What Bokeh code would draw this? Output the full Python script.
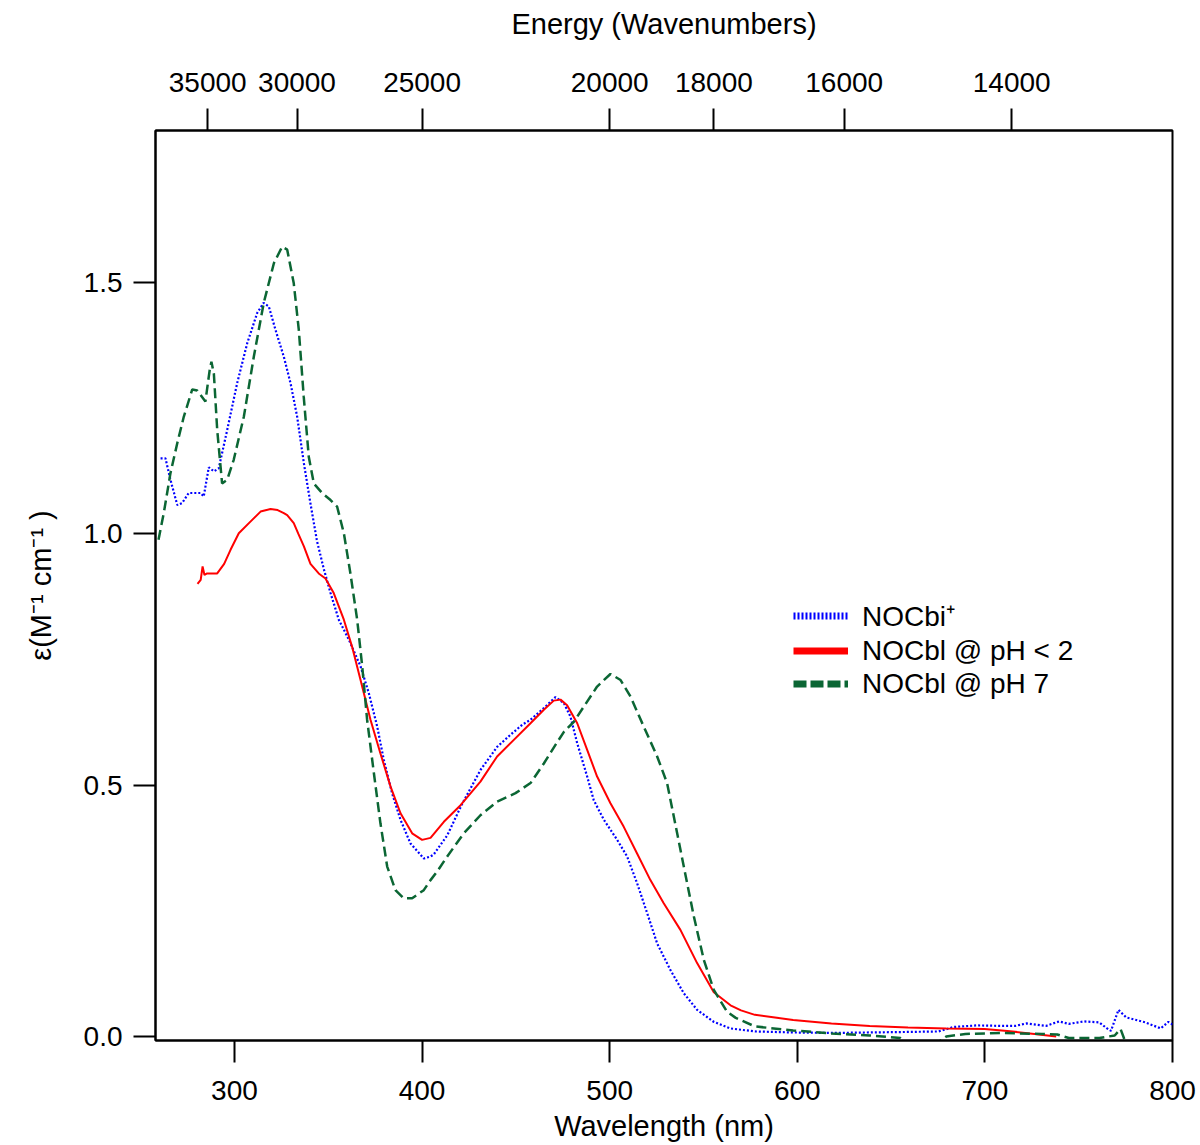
from bokeh.plotting import figure
from bokeh.models import (Range1d, LinearAxis, FixedTicker, CustomJSTickFormatter,
                          PrintfTickFormatter, Legend, LegendItem)
from bokeh.embed import file_html
from bokeh.resources import INLINE

FONT = "Liberation Sans"

# ---- data ----
nocbi_wl = [260.6, 263.2, 265.9, 269.5, 272.1, 275.6, 281.9, 283.6, 286.3, 289.0, 291.6,
            296.1, 301.4, 306.8, 312.1, 315.5, 318.3, 321.9, 326.3, 329.9, 333.4, 337.0,
            340.5, 344.0, 347.6, 351.2, 355.6, 361.0, 367.2, 371.6, 376.1, 379.6, 384.0,
            388.5, 393.8, 400.9, 404.5, 406.2, 413.4, 421.0, 431.1, 440.0, 447.1, 453.4,
            457.8, 464.9, 471.1, 475.6, 479.1, 482.7, 488.0, 491.5, 496.9, 504.0, 509.3,
            514.6, 520.0, 525.3, 532.4, 539.5, 546.6, 555.5, 564.4, 577.4, 597.8, 618.2,
            638.6, 659.0, 675.3, 683.5, 695.7, 710.0, 716.1, 722.3, 732.5, 739.6, 744.7,
            752.9, 761.0, 765.1, 767.2, 771.2, 775.3, 785.6, 793.7, 797.8, 800.8]
nocbi_eps = [1.150, 1.150, 1.107, 1.057, 1.061, 1.081, 1.081, 1.074, 1.132, 1.124, 1.130,
             1.206, 1.299, 1.379, 1.439, 1.459, 1.452, 1.405, 1.352, 1.299, 1.233, 1.140,
             1.060, 0.985, 0.930, 0.882, 0.829, 0.789, 0.736, 0.683, 0.616, 0.550, 0.484,
             0.431, 0.384, 0.354, 0.358, 0.362, 0.400, 0.460, 0.530, 0.576, 0.600, 0.620,
             0.630, 0.653, 0.675, 0.663, 0.636, 0.583, 0.517, 0.470, 0.431, 0.391, 0.358,
             0.305, 0.245, 0.185, 0.132, 0.086, 0.053, 0.029, 0.016, 0.010, 0.008, 0.007,
             0.008, 0.009, 0.010, 0.019, 0.022, 0.021, 0.021, 0.026, 0.021, 0.030, 0.025,
             0.030, 0.028, 0.016, 0.011, 0.053, 0.038, 0.028, 0.016, 0.029, 0.022]

acid_wl = [280.3, 282.0, 283.0, 284.0, 285.4, 290.8, 294.5, 297.9, 302.3, 308.5, 313.9,
           319.2, 323.0, 326.3, 328.1, 331.6, 334.0, 337.0, 340.5, 344.9, 348.5, 352.9,
           358.3, 362.7, 367.2, 372.5, 377.8, 383.2, 388.5, 394.7, 400.0, 404.5, 411.6,
           420.5, 431.1, 440.0, 448.9, 457.8, 464.9, 470.2, 473.8, 477.3, 482.7, 488.0,
           493.3, 500.4, 507.5, 514.6, 521.7, 528.8, 537.7, 546.6, 555.5, 564.4, 570.0,
           577.4, 597.8, 618.2, 638.6, 659.0, 679.4, 699.8, 712.0, 726.4, 738.0]
acid_eps = [0.900, 0.908, 0.935, 0.918, 0.921, 0.921, 0.940, 0.968, 1.001, 1.024, 1.044,
            1.049, 1.047, 1.041, 1.037, 1.021, 1.000, 0.975, 0.940, 0.921, 0.911, 0.882,
            0.829, 0.775, 0.709, 0.630, 0.563, 0.497, 0.444, 0.404, 0.391, 0.395, 0.427,
            0.460, 0.507, 0.557, 0.590, 0.623, 0.650, 0.668, 0.670, 0.659, 0.623, 0.570,
            0.517, 0.464, 0.417, 0.364, 0.311, 0.265, 0.212, 0.146, 0.088, 0.062, 0.052,
            0.043, 0.033, 0.026, 0.021, 0.018, 0.016, 0.015, 0.011, 0.005, 0.000]

neutral_wl = [259.5, 262.3, 265.9, 269.5, 273.0, 277.5, 280.1, 284.5, 286.8, 287.7, 289.0,
              290.8, 293.4, 296.1, 299.6, 305.0, 310.3, 315.6, 321.0, 325.4, 328.1, 331.6,
              334.3, 336.9, 339.6, 342.3, 346.7, 351.2, 354.7, 358.3, 361.8, 365.4, 368.1,
              370.7, 374.3, 377.8, 381.4, 385.8, 390.2, 394.7, 400.9, 404.5, 408.0, 413.4,
              422.2, 431.1, 440.0, 449.8, 457.8, 464.9, 471.1, 475.6, 480.9, 486.2, 493.3,
              500.4, 505.8, 511.1, 518.2, 525.3, 530.6, 534.2, 539.5, 544.9, 550.2, 555.5,
              562.6, 567.2, 577.4, 597.8, 618.2, 638.6, 655.0, 662.0, 672.0, 679.4, 689.6,
              710.0, 730.4, 738.6, 744.7, 761.0, 769.2, 772.3, 774.3, 776.0]
neutral_eps = [0.988, 1.041, 1.121, 1.180, 1.233, 1.287, 1.285, 1.263, 1.326, 1.342, 1.319,
               1.206, 1.100, 1.107, 1.147, 1.233, 1.352, 1.459, 1.538, 1.571, 1.565, 1.498,
               1.405, 1.273, 1.153, 1.100, 1.081, 1.067, 1.054, 1.001, 0.921, 0.829, 0.736,
               0.630, 0.524, 0.424, 0.338, 0.291, 0.275, 0.275, 0.291, 0.311, 0.328, 0.358,
               0.404, 0.440, 0.467, 0.484, 0.504, 0.543, 0.580, 0.606, 0.626, 0.656, 0.696,
               0.721, 0.709, 0.676, 0.616, 0.557, 0.504, 0.437, 0.338, 0.238, 0.152, 0.0925,
               0.049, 0.037, 0.020, 0.012, 0.006, 0.002, -0.003, -0.020, -0.020, 0.000, 0.005,
               0.007, 0.005, 0.004, -0.003, -0.003, 0.002, 0.015, -0.005, -0.020]

series_labels = ["NOCbi\u207a", "NOCbl @ pH < 2", "NOCbl @ pH 7"]
wavelength_ticks = [300, 400, 500, 600, 700, 800]
eps_ticks = [0.0, 0.5, 1.0, 1.5]
wavenumber_ticks = [35000, 30000, 25000, 20000, 18000, 16000, 14000]

BLUE = "#0000ff"
RED = "#ff0000"
GREEN = "#0b6634"

p = figure(width=1200, height=1145, output_backend="svg", toolbar_location=None,
           x_range=Range1d(257.9, 800), y_range=Range1d(-0.008, 1.802),
           min_border_left=155, min_border_right=28, min_border_top=130,
           min_border_bottom=105)
p.grid.visible = False
p.outline_line_color = "black"
p.outline_line_width = 2
p.background_fill_color = "white"
p.border_fill_color = "white"

r_blue = p.line(nocbi_wl, nocbi_eps, line_color=BLUE, line_width=2.2, line_dash="2 2")
r_red = p.line(acid_wl, acid_eps, line_color=RED, line_width=2)
r_green = p.line(neutral_wl, neutral_eps, line_color=GREEN, line_width=2.5, line_dash="10 5")

# thicker samples for the legend only (hidden in the plot area)
l_blue = p.line(nocbi_wl, nocbi_eps, line_color=BLUE, line_width=7, line_dash="2 2", visible=False)
l_red = p.line(acid_wl, acid_eps, line_color=RED, line_width=7, visible=False)
l_green = p.line(neutral_wl, neutral_eps, line_color=GREEN, line_width=7, line_dash="13 4",
                 visible=False)


def style_axis(ax):
    ax.axis_line_width = 2
    ax.axis_line_color = "black"
    ax.major_tick_line_width = 2
    ax.major_tick_line_color = "black"
    ax.major_tick_out = 22
    ax.major_tick_in = 0
    ax.minor_tick_line_color = None
    ax.major_label_text_font = FONT
    ax.major_label_text_font_size = "28px"
    ax.major_label_text_color = "black"
    ax.axis_label_text_font = FONT
    ax.axis_label_text_font_size = "29px"
    ax.axis_label_text_font_style = "normal"
    ax.axis_label_text_color = "black"


xa = p.xaxis[0]
xa.ticker = FixedTicker(ticks=wavelength_ticks)
xa.axis_label = "Wavelength (nm)"
style_axis(xa)
xa.major_label_standoff = 18
xa.axis_label_standoff = 7

ya = p.yaxis[0]
ya.ticker = FixedTicker(ticks=eps_ticks)
ya.formatter = PrintfTickFormatter(format="%.1f")
ya.axis_label = "\u03b5(M\u207b\u00b9 cm\u207b\u00b9 )"
style_axis(ya)
ya.major_label_standoff = 11
ya.axis_label_standoff = 24

top = LinearAxis(ticker=FixedTicker(ticks=[1e7 / w for w in wavenumber_ticks]),
                 formatter=CustomJSTickFormatter(code="return Math.round(1e7 / tick).toString();"),
                 axis_label="Energy (Wavenumbers)")
style_axis(top)
top.major_label_standoff = 17
top.axis_label_standoff = 30
p.add_layout(top, "above")

legend = Legend(items=[LegendItem(label=series_labels[0], renderers=[l_blue]),
                       LegendItem(label=series_labels[1], renderers=[l_red]),
                       LegendItem(label=series_labels[2], renderers=[l_green])],
                location=(638, 340), orientation="vertical", click_policy="none",
                label_text_font=FONT, label_text_font_size="28px", label_text_color="black",
                glyph_width=55, glyph_height=33, label_height=33, label_standoff=14,
                spacing=0, padding=0, margin=0,
                border_line_alpha=0, background_fill_alpha=0)
p.add_layout(legend, "center")

open("out.html", "w").write(file_html(p, INLINE))
